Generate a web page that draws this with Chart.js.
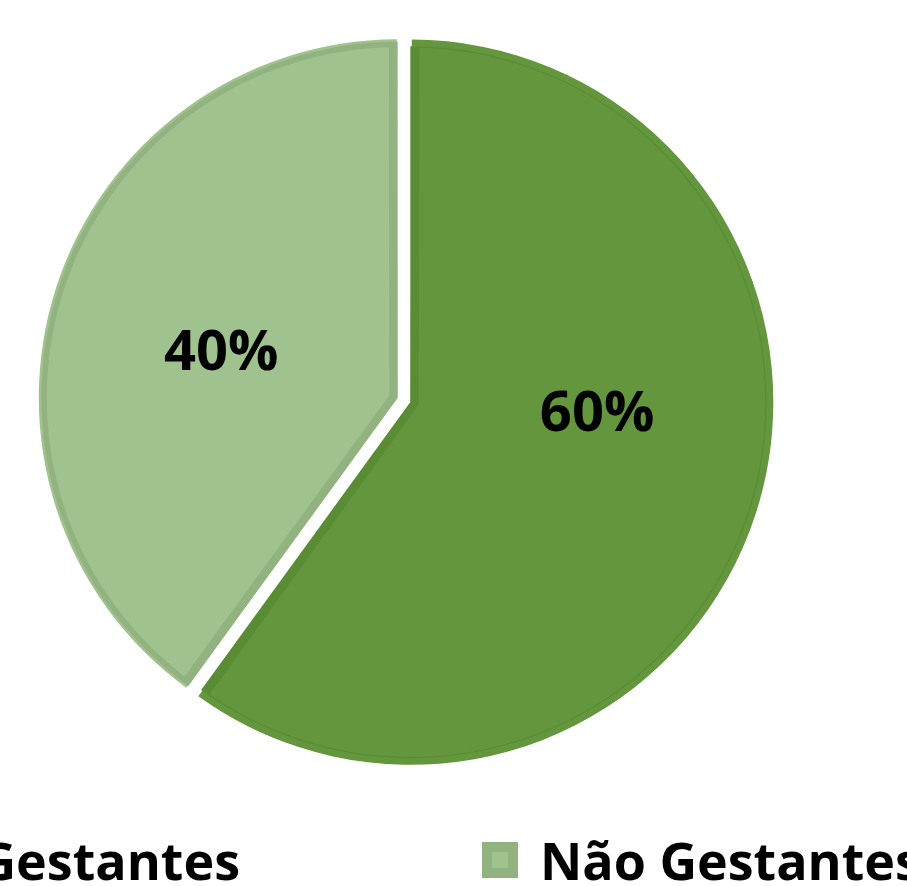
<!DOCTYPE html>
<html>
<head>
<meta charset="utf-8">
<script src="https://cdn.jsdelivr.net/npm/chart.js@4.4.0/dist/chart.umd.min.js"></script>
<style>
  html, body { margin: 0; padding: 0; background: #ffffff; }
  #page { position: relative; width: 907px; height: 886px; overflow: hidden; background: #fff; }
  #chartWrap { position: absolute; left: 0; top: 0; width: 907px; height: 800px; }
  .lg-item { position: absolute; top: 834px; height: 52px; display: flex; align-items: center; white-space: nowrap;
             font-family: "Open Sans", "Noto Sans", sans-serif; font-weight: 700; font-size: 52px; line-height: 52px; color: #000; }
  .lg-box { width: 36px; height: 36px; box-sizing: border-box; border-style: solid; border-width: 10px; margin-right: 22px; flex: none; }
</style>
</head>
<body>
<div id="page">
  <div id="chartWrap"><canvas id="c" width="907" height="800"></canvas></div>
  <div id="legend"></div>
</div>
<script>
// ---- data ----
const categories = ["Gestantes", "Não Gestantes"];
const values = [60, 40];
const valueLabels = ["60%", "40%"];
// ---- styles ----
const fillColors = ["#64973D", "#9FC28E"];
const borderColors = ["#5A8C35", "#92B37F"];
const labelAngleAdjustDeg = [-14, -4];
const labelRadiusFrac = [0.525, 0.51];

const labelPlugin = {
  id: 'sliceLabels',
  afterDatasetsDraw(chart) {
    const ctx = chart.ctx;
    const meta = chart.getDatasetMeta(0);
    ctx.save();
    ctx.font = 'bold 56px "Open Sans", "Noto Sans", sans-serif';
    ctx.fillStyle = '#000';
    ctx.textAlign = 'center';
    ctx.textBaseline = 'middle';
    meta.data.forEach((arc, i) => {
      const p = arc.getProps(['x', 'y', 'startAngle', 'endAngle', 'outerRadius'], true);
      const off = (arc.options.offset || 0) / 4;
      const mid = (p.startAngle + p.endAngle) / 2;
      const cx = p.x + Math.cos(mid) * off;
      const cy = p.y + Math.sin(mid) * off;
      const a = mid + labelAngleAdjustDeg[i] * Math.PI / 180;
      const r = p.outerRadius * labelRadiusFrac[i];
      ctx.fillText(valueLabels[i], cx + Math.cos(a) * r, cy + Math.sin(a) * r);
    });
    ctx.restore();
  }
};

const chart = new Chart(document.getElementById('c'), {
  type: 'pie',
  data: {
    labels: categories,
    datasets: [{
      data: values,
      backgroundColor: fillColors,
      borderColor: borderColors,
      borderWidth: 8,
      borderAlign: 'inner',
      offset: 28,
      hoverOffset: 28
    }]
  },
  options: {
    responsive: false,
    animation: false,
    devicePixelRatio: 1,
    radius: 356,
    layout: { padding: { left: 0, right: 99, top: 0, bottom: 0 } },
    plugins: { legend: { display: false }, tooltip: { enabled: false } },
    events: []
  },
  plugins: [labelPlugin]
});

// HTML legend built from the same arrays
const legendEl = document.getElementById('legend');
categories.forEach((name, i) => {
  const d = document.createElement('div');
  d.className = 'lg-item';
  if (i === 0) { d.style.right = (907 - 240) + 'px'; } else { d.style.left = '482px'; }
  const b = document.createElement('span');
  b.className = 'lg-box';
  b.style.background = fillColors[i];
  b.style.borderColor = borderColors[i];
  const t = document.createElement('span');
  t.textContent = name;
  d.appendChild(b); d.appendChild(t);
  legendEl.appendChild(d);
});
</script>
</body>
</html>
